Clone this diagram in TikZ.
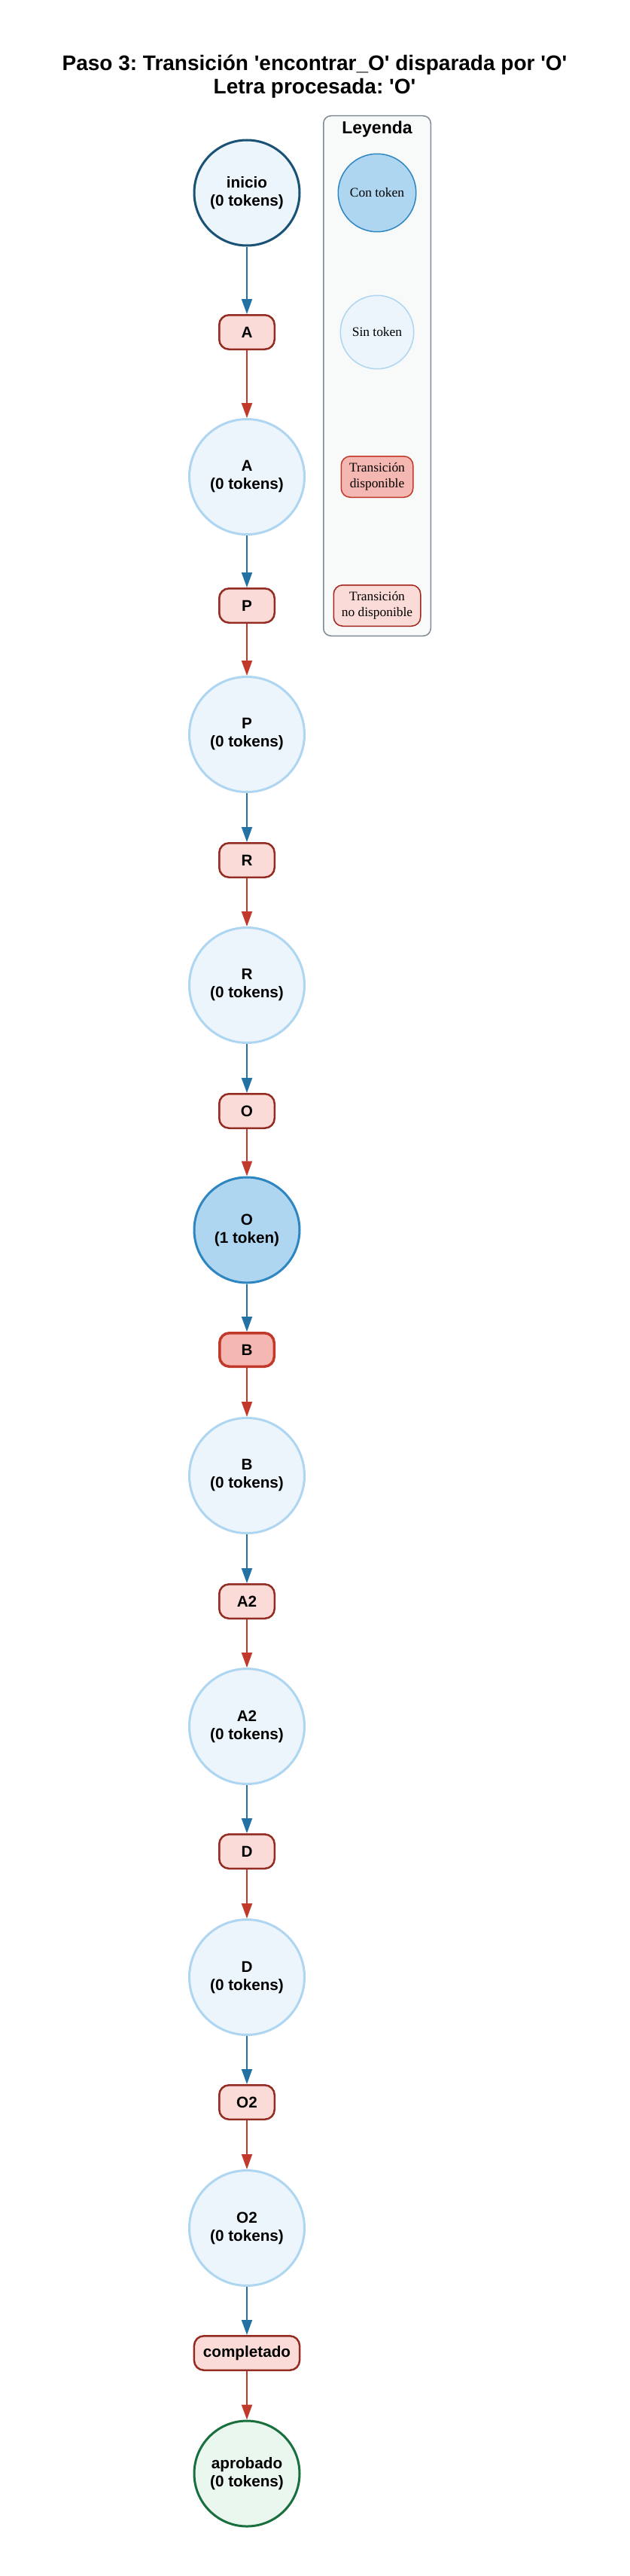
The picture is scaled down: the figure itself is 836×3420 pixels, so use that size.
\documentclass[tikz,border=0pt]{standalone}
\usepackage{fontspec}
\setmainfont{Liberation Sans}[Ligatures=TeXOff]
\newfontfamily\seriffont{Liberation Serif}
\frenchspacing
\usetikzlibrary{arrows.meta}
\definecolor{sinfill}{HTML}{EBF5FB}
\definecolor{sindraw}{HTML}{AED6F1}
\definecolor{confill}{HTML}{AED6F1}
\definecolor{condraw}{HTML}{2E86C1}
\definecolor{inidraw}{HTML}{1A5276}
\definecolor{finfill}{HTML}{E9F7EF}
\definecolor{findraw}{HTML}{196F3D}
\definecolor{tfill}{HTML}{FADBD8}
\definecolor{tdraw}{HTML}{922B21}
\definecolor{tafill}{HTML}{F5B7B1}
\definecolor{tadraw}{HTML}{C0392B}
\definecolor{barrowc}{HTML}{2471A3}
\definecolor{rarrowc}{HTML}{C0392B}
\definecolor{legfill}{HTML}{F8F9F9}
\definecolor{legdraw}{HTML}{808B96}
\newcommand\nodefnt{\fontsize{20.7}{24}\selectfont\bfseries}
\newcommand\legfnt{\seriffont\fontsize{17.4}{21}\selectfont}
\tikzset{
  place/.style={circle, minimum size=153pt, inner sep=0pt, line width=3pt, draw=sindraw, fill=sinfill, font=\nodefnt, align=center},
  bigplace/.style={place, minimum size=140pt},
  trans/.style={rectangle, rounded corners=13pt, minimum width=73.5pt, minimum height=45.5pt, inner xsep=12pt, inner ysep=0pt, line width=2.5pt, draw=tdraw, fill=tfill, font=\nodefnt},
  transav/.style={trans, line width=3.5pt, draw=tadraw, fill=tafill, minimum width=72.5pt, minimum height=44.5pt},
  barrow/.style={draw=barrowc, line width=2pt, -{Triangle[length=20pt,width=14pt]}},
  rarrow/.style={draw=rarrowc, line width=2pt, -{Triangle[length=20pt,width=14pt]}},
  legbox/.style={rectangle, rounded corners=10pt, draw=legdraw, fill=legfill, line width=1.5pt, minimum width=142.5pt, minimum height=690.5pt},
  legcirc/.style={circle, inner sep=0pt, line width=1.5pt, font=\legfnt},
  legtrans/.style={rectangle, rounded corners=12pt, line width=1.5pt, font=\legfnt, align=center, minimum height=54.5pt, inner xsep=10pt}
}
\begin{document}
\begin{tikzpicture}[x=1pt, y=-1pt]
\useasboundingbox[fill=white] (0,0) rectangle (836,3420);
% title
\node[font={\fontsize{28}{31}\selectfont\bfseries}, align=center] (title) at (418,102)
  {Paso 3: Transición 'encontrar\_O' disparada por 'O'\\Letra procesada: 'O'};
% legend
\node[legbox] (leg) at (501,499) {};
\node[font={\fontsize{23}{26}\selectfont\bfseries}] (legtitle) at (501,172) {Leyenda};
\node[legcirc, minimum size=103.5pt, fill=confill, draw=condraw] (lcon) at (501,256) {Con token};
\node[legcirc, minimum size=97.5pt, fill=sinfill, draw=sindraw] (lsin) at (501,441) {Sin token};
\node[legtrans, fill=tafill, draw=tadraw, minimum width=95.5pt] (ldisp) at (501,633) {Transición\\disponible};
\node[legtrans, fill=tfill, draw=tdraw!85!red, minimum width=115.5pt] (lnodisp) at (501,804) {Transición\\no disponible};
% chain
\node[bigplace, draw=inidraw] (p0) at (328,256) {inicio\\(0 tokens)};
\node[trans] (t1) at (328,441) {A};
\node[place] (p1) at (328,633) {A\\(0 tokens)};
\node[trans] (t2) at (328,804) {P};
\node[place] (p2) at (328,975) {P\\(0 tokens)};
\node[trans] (t3) at (328,1142) {R};
\node[place] (p3) at (328,1308) {R\\(0 tokens)};
\node[trans] (t4) at (328,1475) {O};
\node[bigplace, fill=confill, draw=condraw] (p4) at (328,1633) {O\\(1 token)};
\node[transav] (t5) at (328,1792) {B};
\node[place] (p5) at (328,1959) {B\\(0 tokens)};
\node[trans] (t6) at (328,2126) {A2};
\node[place] (p6) at (328,2292) {A2\\(0 tokens)};
\node[trans] (t7) at (328,2458) {D};
\node[place] (p7) at (328,2625) {D\\(0 tokens)};
\node[trans] (t8) at (328,2791) {O2};
\node[place] (p8) at (328,2958) {O2\\(0 tokens)};
\node[trans] (t9) at (328,3124) {completado};
\node[bigplace, fill=finfill, draw=findraw] (p9) at (328,3284) {aprobado\\(0 tokens)};
% arcs
\draw[barrow] (p0) -- (t1);
\draw[rarrow] (t1) -- (p1);
\draw[barrow] (p1) -- (t2);
\draw[rarrow] (t2) -- (p2);
\draw[barrow] (p2) -- (t3);
\draw[rarrow] (t3) -- (p3);
\draw[barrow] (p3) -- (t4);
\draw[rarrow] (t4) -- (p4);
\draw[barrow] (p4) -- (t5);
\draw[rarrow] (t5) -- (p5);
\draw[barrow] (p5) -- (t6);
\draw[rarrow] (t6) -- (p6);
\draw[barrow] (p6) -- (t7);
\draw[rarrow] (t7) -- (p7);
\draw[barrow] (p7) -- (t8);
\draw[rarrow] (t8) -- (p8);
\draw[barrow] (p8) -- (t9);
\draw[rarrow] (t9) -- (p9);
\end{tikzpicture}
\end{document}
